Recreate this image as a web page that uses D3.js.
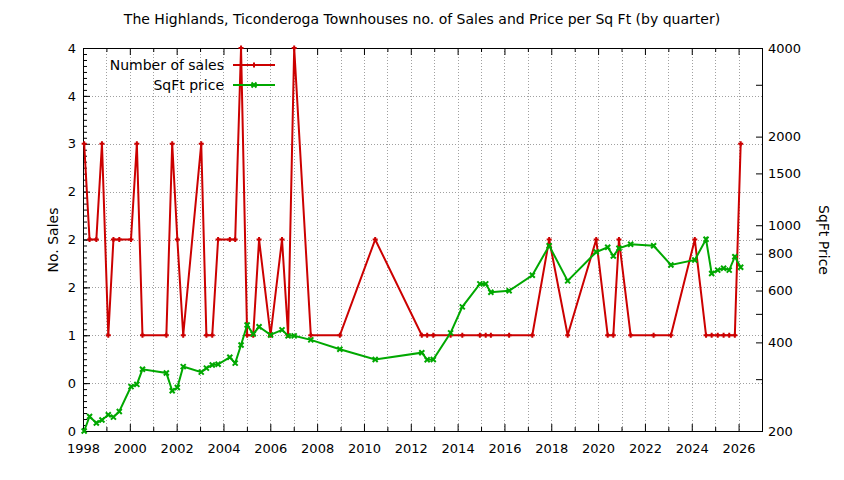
<!DOCTYPE html>
<html>
<head>
<meta charset="utf-8">
<script src="https://cdn.jsdelivr.net/npm/d3@7"></script>
<style>
  body { margin: 0; background: #fff; }
  svg { display: block; font-family: "DejaVu Sans", Verdana, sans-serif; }
</style>
</head>
<body>
<svg class="canvas" width="844" height="480"></svg>
<script>
// quarter dates (decimal year)
const quarters = [
  1998.05, 1998.28, 1998.57, 1998.81, 1999.08, 1999.30, 1999.55, 2000.05, 2000.30, 2000.54,
  2001.56, 2001.81, 2002.03, 2002.28, 2003.05, 2003.27, 2003.52, 2003.77, 2004.27, 2004.50,
  2004.75, 2005.01, 2005.27, 2005.52, 2006.01, 2006.50, 2006.76, 2007.02, 2007.73, 2008.97,
  2010.48, 2012.47, 2012.70, 2012.96, 2013.70, 2014.20, 2014.95, 2015.20, 2015.42, 2016.20,
  2017.19, 2017.91, 2018.70, 2019.92, 2020.41, 2020.65, 2020.89, 2021.39, 2022.37, 2023.11,
  2024.13, 2024.61, 2024.85, 2025.11, 2025.36, 2025.60, 2025.84, 2026.09
];
const numberOfSales = [
  3, 2, 2, 3, 1, 2, 2, 2, 3, 1,
  1, 3, 2, 1, 3, 1, 1, 2, 2, 2,
  4, 1, 1, 2, 1, 2, 1, 4, 1, 1,
  2, 1, 1, 1, 1, 1, 1, 1, 1, 1,
  1, 2, 1, 2, 1, 1, 2, 1, 1, 1,
  2, 1, 1, 1, 1, 1, 1, 3
];
const sqftPrice = [
  200, 224, 213, 218, 227, 223, 233, 283, 288, 324,
  315, 274, 281, 331, 317, 327, 335, 337, 356, 340,
  392, 458, 427, 452, 424, 441, 421, 421, 408, 379,
  350, 369, 349, 350, 431, 528, 632, 632, 592, 599,
  676, 852, 647, 811, 842, 786, 835, 862, 852, 733,
  762, 896, 686, 704, 714, 704, 782, 720
];

const yTicks = [0, 0.5, 1, 1.5, 2, 2.5, 3, 3.5, 4];
const yTickLabels = ["0", "0", "1", "2", "2", "2", "3", "4", "4"];
const y2Ticks = [200, 400, 600, 800, 1000, 1500, 2000, 4000];
const y2MinorTicks = [300, 500, 700, 900, 3000];
const xTicks = d3.range(1998, 2027, 2);
const xMinorTicks = d3.range(1999, 2027, 2);

const title = "The Highlands, Ticonderoga Townhouses no. of Sales and Price per Sq Ft (by quarter)";
const red = "#cc0000";
const green = "#00a800";

const svg = d3.select(".canvas");
const plotL = 83, plotR = 762, plotT = 48, plotB = 431;

const x = d3.scaleLinear().domain([1998, 2027]).range([plotL, plotR]);
const y = d3.scaleLinear().domain([0, 4]).range([plotB, plotT]);
const y2 = d3.scaleLog().domain([200, 4000]).range([plotB, plotT]);

// grid
const grid = svg.append("g")
  .attr("stroke", "#a0a0a0")
  .attr("stroke-width", 1)
  .attr("stroke-dasharray", "1,2");
grid.selectAll("line.h")
  .data(yTicks.slice(1, -1))
  .enter()
  .append("line")
  .attr("x1", plotL).attr("x2", plotR)
  .attr("y1", d => Math.round(y(d)) + 0.5)
  .attr("y2", d => Math.round(y(d)) + 0.5);
grid.selectAll("line.v")
  .data(d3.range(1999, 2027))
  .enter()
  .append("line")
  .attr("y1", plotT).attr("y2", plotB)
  .attr("x1", d => Math.round(x(d)) + 0.5)
  .attr("x2", d => Math.round(x(d)) + 0.5);

const styleAxis = g => {
  g.select(".domain").remove();
  g.selectAll("line").attr("stroke", "#000");
  g.selectAll("text")
    .attr("fill", "#000")
    .attr("font-size", 13)
    .attr("font-family", "DejaVu Sans, sans-serif");
};

// x axis: bottom with labels, top mirrored
svg.append("g")
  .attr("transform", `translate(0,${plotB})`)
  .call(d3.axisBottom(x).tickValues(xTicks).tickFormat(d3.format("d")).tickSizeInner(-7).tickPadding(13))
  .call(styleAxis);
svg.append("g")
  .attr("transform", `translate(0,${plotB})`)
  .call(d3.axisBottom(x).tickValues(xMinorTicks).tickFormat("").tickSizeInner(-4))
  .call(styleAxis);
svg.append("g")
  .attr("transform", `translate(0,${plotT})`)
  .call(d3.axisTop(x).tickValues(xTicks).tickFormat("").tickSizeInner(-7))
  .call(styleAxis);
svg.append("g")
  .attr("transform", `translate(0,${plotT})`)
  .call(d3.axisTop(x).tickValues(xMinorTicks).tickFormat("").tickSizeInner(-4))
  .call(styleAxis);

// left axis
svg.append("g")
  .attr("transform", `translate(${plotL},0)`)
  .call(d3.axisLeft(y).tickValues(yTicks).tickFormat((d, i) => yTickLabels[i]).tickSizeInner(-7).tickPadding(7))
  .call(styleAxis);
svg.append("g")
  .attr("transform", `translate(${plotL},0)`)
  .call(d3.axisLeft(y).tickValues(d3.range(0, 4, 0.0625)).tickFormat("").tickSizeInner(-4))
  .call(styleAxis);

// right axis (log)
svg.append("g")
  .attr("transform", `translate(${plotR},0)`)
  .call(d3.axisRight(y2).tickValues(y2Ticks).tickFormat(d3.format("d")).tickSizeInner(-6).tickPadding(6))
  .call(styleAxis);
svg.append("g")
  .attr("transform", `translate(${plotR},0)`)
  .call(d3.axisRight(y2).tickValues(y2MinorTicks).tickFormat("").tickSizeInner(-6))
  .call(styleAxis);

// border
svg.append("rect")
  .attr("x", plotL + 0.5).attr("y", plotT + 0.5)
  .attr("width", plotR - plotL).attr("height", plotB - plotT)
  .attr("fill", "none")
  .attr("stroke", "#000");

// title + axis labels
svg.append("text")
  .attr("x", 422).attr("y", 24)
  .attr("text-anchor", "middle")
  .attr("font-size", 14)
  .text(title);
svg.append("text")
  .attr("transform", "translate(58,240) rotate(-90)")
  .attr("text-anchor", "middle")
  .attr("font-size", 14)
  .text("No. Sales");
svg.append("text")
  .attr("transform", "translate(819,240) rotate(90)")
  .attr("text-anchor", "middle")
  .attr("font-size", 14)
  .text("SqFt Price");

const plus = s => `M${-s},0H${s}M0,${-s}V${s}`;
const cross = s => `M${-s},${-s}L${s},${s}M${-s},${s}L${s},${-s}`;

const salesData = quarters.map((q, i) => ({ q, v: numberOfSales[i] }));
const priceData = quarters.map((q, i) => ({ q, v: sqftPrice[i] }));

const plot = svg.append("g");

plot.append("path")
  .datum(salesData)
  .attr("fill", "none")
  .attr("stroke", red)
  .attr("stroke-width", 2)
  .attr("d", d3.line().x(d => x(d.q)).y(d => y(d.v)));
plot.selectAll("path.sm")
  .data(salesData)
  .enter()
  .append("path")
  .attr("class", "sm")
  .attr("transform", d => `translate(${x(d.q)},${y(d.v)})`)
  .attr("d", plus(2.5))
  .attr("stroke", red)
  .attr("stroke-width", 2);

plot.append("path")
  .datum(priceData)
  .attr("fill", "none")
  .attr("stroke", green)
  .attr("stroke-width", 2)
  .attr("d", d3.line().x(d => x(d.q)).y(d => y2(d.v)));
plot.selectAll("path.pm")
  .data(priceData)
  .enter()
  .append("path")
  .attr("class", "pm")
  .attr("transform", d => `translate(${x(d.q)},${y2(d.v)})`)
  .attr("d", cross(2.5))
  .attr("stroke", green)
  .attr("stroke-width", 2);

// legend
const legend = [
  { label: "Number of sales", color: red, mark: plus(2.5), ly: 65 },
  { label: "SqFt price", color: green, mark: cross(2.5), ly: 85 }
];
const lg = svg.append("g")
  .selectAll("g")
  .data(legend)
  .enter()
  .append("g")
  .attr("transform", d => `translate(0,${d.ly})`);
lg.append("text")
  .attr("x", 224).attr("y", 5)
  .attr("text-anchor", "end")
  .attr("font-size", 14)
  .text(d => d.label);
lg.append("line")
  .attr("x1", 233).attr("x2", 275)
  .attr("stroke", d => d.color)
  .attr("stroke-width", 2);
lg.append("path")
  .attr("transform", "translate(254,0)")
  .attr("d", d => d.mark)
  .attr("stroke", d => d.color)
  .attr("stroke-width", 2);
</script>
</body>
</html>
